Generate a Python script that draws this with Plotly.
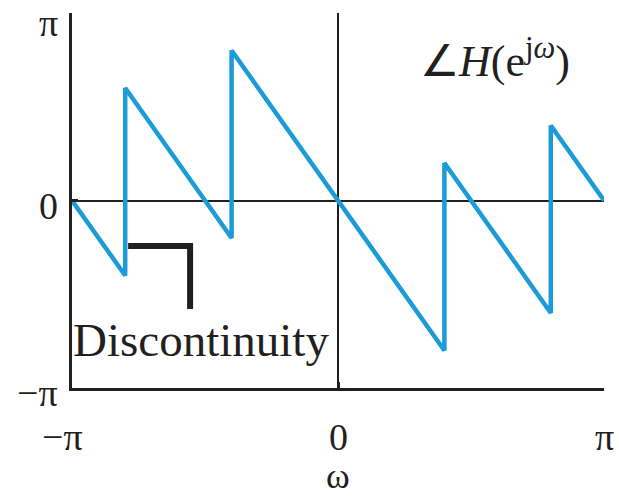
import plotly.graph_objects as go

# Phase response vertices, in units of pi (frequency and angle)
omega_pi = [-1.0, -0.8, -0.8, -0.4, -0.4, 0.4, 0.4, 0.8, 0.8, 1.0]
phase_pi = [0.0, -0.4, 0.6, -0.2, 0.8, -0.8, 0.2, -0.6, 0.4, 0.0]

tick_vals = [-1, 0, 1]
tick_text = ["\u2212\u03c0", "0", "\u03c0"]

INK = "#231f20"
BLUE = "#1b9bd7"
SERIF = "Liberation Serif, Times New Roman, serif"

fig = go.Figure()
fig.add_trace(go.Scatter(
    x=omega_pi, y=phase_pi, mode="lines",
    line=dict(color=BLUE, width=4.5),
    hoverinfo="skip", showlegend=False,
))

axis_common = dict(
    tickvals=tick_vals, showticklabels=False, showgrid=False,
    showline=True, linecolor=INK, linewidth=3,
    ticks="inside", ticklen=6, tickwidth=3, tickcolor=INK,
    zeroline=True, zerolinecolor=INK, zerolinewidth=2,
    fixedrange=True,
)
fig.update_xaxes(range=[-1, 1], **axis_common)
fig.update_yaxes(range=[-1, 1], **axis_common)

ann = []
# y tick labels (top one hangs from the page edge)
for v, t in zip(tick_vals, tick_text):
    if v == 1:
        anchor, shift = "top", 13
    else:
        anchor, shift = "middle", -5
    ann.append(dict(xref="paper", yref="y", x=0, y=v, text=t, showarrow=False,
                    xanchor="right", yanchor=anchor, xshift=-12, yshift=shift,
                    font=dict(family=SERIF, size=38, color=INK)))
# x tick labels
x_anchor = {-1: "right", 0: "center", 1: "center"}
x_shift = {-1: 13, 0: 0, 1: 0}
for v, t in zip(tick_vals, tick_text):
    ann.append(dict(xref="x", yref="paper", x=v, y=0, text=t, showarrow=False,
                    xanchor=x_anchor[v], yanchor="top", xshift=x_shift[v], yshift=-26,
                    font=dict(family=SERIF, size=38, color=INK)))
# axis title, sitting on the bottom page edge
ann.append(dict(xref="x", yref="paper", x=0, y=0, text="\u03c9", showarrow=False,
                xanchor="center", yanchor="bottom", yshift=-110,
                font=dict(family=SERIF, size=36, color=INK)))
# curve label
ann.append(dict(xref="x", yref="y", x=0.59, y=0.76,
                text="\u2220<i>H</i>(e<sup>j<i>\u03c9</i></sup>)", showarrow=False,
                xanchor="center", yanchor="middle",
                font=dict(family=SERIF, size=44, color=INK)))
# discontinuity note
ann.append(dict(xref="x", yref="y", x=-0.515, y=-0.744, text="Discontinuity",
                showarrow=False, xanchor="center", yanchor="middle",
                font=dict(family=SERIF, size=47, color=INK)))

fig.add_shape(type="path", xref="x", yref="y",
              path="M -0.789 -0.243 L -0.556 -0.243 L -0.556 -0.579",
              line=dict(color=INK, width=6))

fig.update_layout(
    width=619, height=498,
    margin=dict(l=72, r=15, t=13, b=110),
    paper_bgcolor="white", plot_bgcolor="white",
    annotations=ann,
)

fig.write_html("out.html", config={"displayModeBar": False})
